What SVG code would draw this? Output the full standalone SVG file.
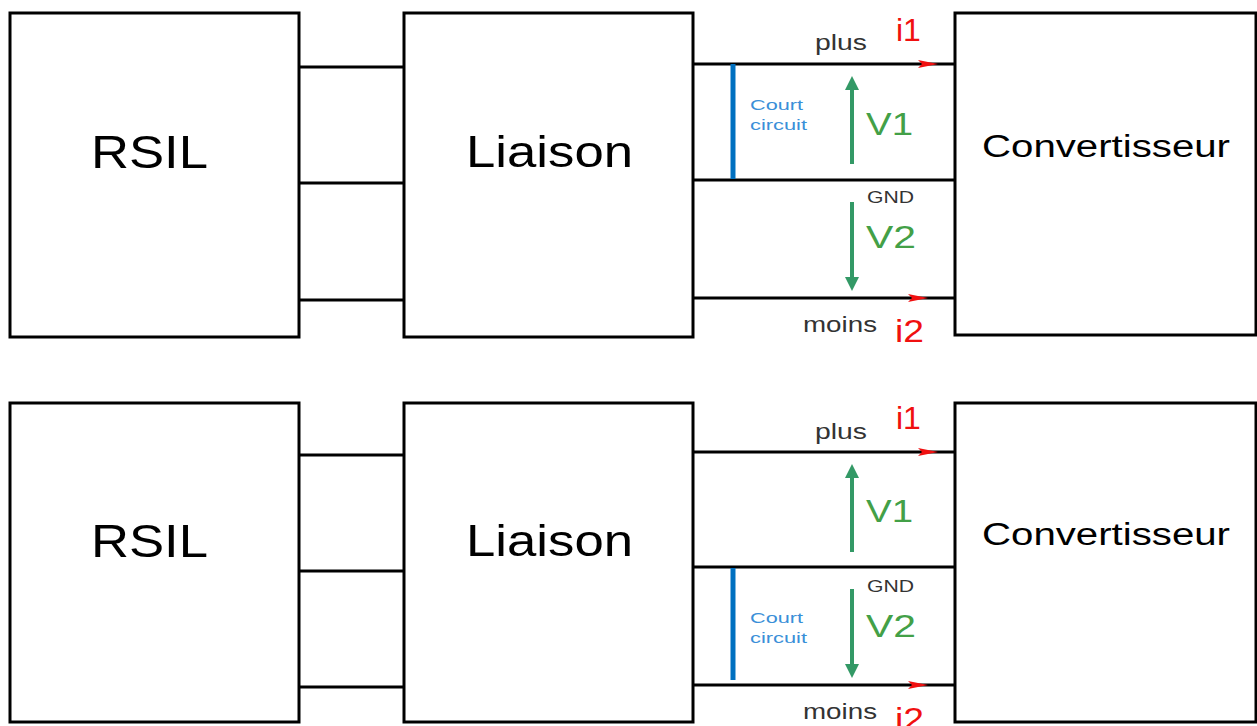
<svg xmlns="http://www.w3.org/2000/svg" width="1257" height="726" viewBox="0 0 1257 726">
<defs>
<style>
.box{fill:#fff;stroke:#000;stroke-width:3}
.wire{stroke:#000;stroke-width:3;fill:none}
.big{font-family:"Liberation Sans",Arial,sans-serif;fill:#000}
.lbl{font-family:"Liberation Sans",Arial,sans-serif;fill:#333}
.cur{font-family:"Liberation Sans",Arial,sans-serif;fill:#f01010;font-size:32px}
.volt{font-family:"Liberation Sans",Arial,sans-serif;fill:#43a047;font-size:31px}
.cc{font-family:"Liberation Sans",Arial,sans-serif;fill:#3a8fd8;font-size:15px}
.short{stroke:#0070c0;stroke-width:5}
.varr{stroke:#339966;stroke-width:4;fill:none}
.ahead{fill:#339966}
.iarr{fill:#f01010}
</style>
</defs>

<!-- TOP PANEL -->
<g id="rsil1"><rect class="box" x="10" y="13" width="289" height="324"/><text class="big" x="91" y="168" font-size="46" textLength="117" lengthAdjust="spacingAndGlyphs">RSIL</text></g>
<g id="liaison1"><rect class="box" x="404" y="13" width="289" height="324"/><text class="big" x="466" y="167" font-size="45" textLength="167" lengthAdjust="spacingAndGlyphs">Liaison</text></g>
<g id="conv1"><rect class="box" x="955" y="13" width="301" height="322"/><text class="big" x="982" y="157" font-size="31" textLength="248" lengthAdjust="spacingAndGlyphs">Convertisseur</text></g>

<g id="connectors1">
<line class="wire" x1="299" y1="67" x2="404" y2="67"/>
<line class="wire" x1="299" y1="183" x2="404" y2="183"/>
<line class="wire" x1="299" y1="300" x2="404" y2="300"/>
<line class="wire" x1="693" y1="64" x2="955" y2="64"/>
<line class="wire" x1="693" y1="180" x2="955" y2="180"/>
<line class="wire" x1="693" y1="298" x2="955" y2="298"/>
<polygon class="iarr" points="918,60 938,64 918,68 922,64"/>
<polygon class="iarr" points="908,294 928,298 908,302 912,298"/>
<line class="short" x1="733" y1="64" x2="733" y2="179"/>
<line class="varr" x1="852" y1="88" x2="852" y2="164"/>
<polygon class="ahead" points="852,76 845,90 859,90"/>
<line class="varr" x1="852" y1="202" x2="852" y2="278"/>
<polygon class="ahead" points="852,291 845,277 859,277"/>
</g>
<g id="labels1">
<text class="lbl" x="815" y="50" font-size="22" textLength="52" lengthAdjust="spacingAndGlyphs">plus</text>
<text class="cur" x="896" y="41">i1</text>
<text class="cc" x="750" y="110" textLength="53" lengthAdjust="spacingAndGlyphs">Court</text>
<text class="cc" x="750" y="130" textLength="57" lengthAdjust="spacingAndGlyphs">circuit</text>
<text class="volt" x="866" y="135" textLength="47" lengthAdjust="spacingAndGlyphs">V1</text>
<text class="lbl" x="867" y="203" font-size="17" textLength="47" lengthAdjust="spacingAndGlyphs">GND</text>
<text class="volt" x="866" y="248" textLength="50" lengthAdjust="spacingAndGlyphs">V2</text>
<text class="lbl" x="803" y="332" font-size="22" textLength="74" lengthAdjust="spacingAndGlyphs">moins</text>
<text class="cur" x="895" y="342" textLength="29" lengthAdjust="spacingAndGlyphs">i2</text>
</g>

<!-- BOTTOM PANEL -->
<g id="rsil2"><rect class="box" x="10" y="403" width="289" height="319"/><text class="big" x="91" y="557" font-size="46" textLength="117" lengthAdjust="spacingAndGlyphs">RSIL</text></g>
<g id="liaison2"><rect class="box" x="404" y="403" width="289" height="319"/><text class="big" x="466" y="556" font-size="45" textLength="167" lengthAdjust="spacingAndGlyphs">Liaison</text></g>
<g id="conv2"><rect class="box" x="955" y="403" width="301" height="319"/><text class="big" x="982" y="545" font-size="31" textLength="248" lengthAdjust="spacingAndGlyphs">Convertisseur</text></g>

<g id="connectors2">
<line class="wire" x1="299" y1="455" x2="404" y2="455"/>
<line class="wire" x1="299" y1="571" x2="404" y2="571"/>
<line class="wire" x1="299" y1="687" x2="404" y2="687"/>
<line class="wire" x1="693" y1="452" x2="955" y2="452"/>
<line class="wire" x1="693" y1="567" x2="955" y2="567"/>
<line class="wire" x1="693" y1="685" x2="955" y2="685"/>
<polygon class="iarr" points="918,448 938,452 918,456 922,452"/>
<polygon class="iarr" points="908,681 928,685 908,689 912,685"/>
<line class="short" x1="733" y1="568" x2="733" y2="680"/>
<line class="varr" x1="852" y1="476" x2="852" y2="552"/>
<polygon class="ahead" points="852,464 845,478 859,478"/>
<line class="varr" x1="852" y1="589" x2="852" y2="665"/>
<polygon class="ahead" points="852,678 845,664 859,664"/>
</g>
<g id="labels2">
<text class="lbl" x="815" y="439" font-size="22" textLength="52" lengthAdjust="spacingAndGlyphs">plus</text>
<text class="cur" x="896" y="429">i1</text>
<text class="cc" x="750" y="623" textLength="53" lengthAdjust="spacingAndGlyphs">Court</text>
<text class="cc" x="750" y="643" textLength="57" lengthAdjust="spacingAndGlyphs">circuit</text>
<text class="volt" x="866" y="522" textLength="47" lengthAdjust="spacingAndGlyphs">V1</text>
<text class="lbl" x="867" y="592" font-size="17" textLength="47" lengthAdjust="spacingAndGlyphs">GND</text>
<text class="volt" x="866" y="637" textLength="50" lengthAdjust="spacingAndGlyphs">V2</text>
<text class="lbl" x="803" y="719" font-size="22" textLength="74" lengthAdjust="spacingAndGlyphs">moins</text>
<text class="cur" x="895" y="730" textLength="29" lengthAdjust="spacingAndGlyphs">i2</text>
</g>
</svg>
